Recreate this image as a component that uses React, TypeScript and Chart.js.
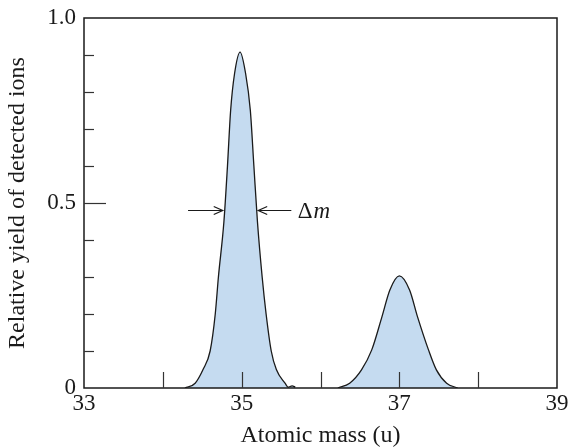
import React, { useEffect, useRef } from "react";
import { Chart, registerables } from "chart.js";

Chart.register(...registerables);

// Peak around 35 u
const peak35Mass = [34.28, 34.41, 34.51, 34.6, 34.665, 34.705, 34.775, 34.82, 34.86, 34.91, 34.98, 35.05, 35.11, 35.155, 35.2, 35.26, 35.31, 35.375, 35.44, 35.55, 35.59, 35.64, 35.68];
const peak35Yield = [0, 0.013, 0.05, 0.1, 0.2, 0.3, 0.45, 0.6, 0.75, 0.85, 0.908, 0.85, 0.75, 0.6, 0.45, 0.3, 0.2, 0.1, 0.05, 0.013, 0.002, 0.006, 0.002];

// Peak around 37 u
const peak37Mass = [36.22, 36.37, 36.52, 36.65, 36.78, 36.88, 37.0, 37.13, 37.23, 37.37, 37.47, 37.6, 37.74];
const peak37Yield = [0, 0.013, 0.049, 0.103, 0.193, 0.265, 0.303, 0.265, 0.193, 0.103, 0.049, 0.013, 0];

// Axis ticks
const xMajorLabels = [33, 35, 37, 39];
const xTickValues = [34, 35, 36, 37, 38];
const yLabels = [0, 0.5, 1.0];
const yTickValues = [0.1, 0.2, 0.3, 0.4, 0.5, 0.6, 0.7, 0.8, 0.9];

// Δm annotation
const deltaMLevel = 0.48;
const leftArrow = [34.32, 34.76];
const rightArrow = [35.63, 35.21];
const deltaMTextAt = 35.71;

const FONT = "'Liberation Serif', 'Times New Roman', serif";
const INK = "#1a1a1a";

const decorPlugin = {
  id: "decor",
  afterDatasetsDraw(chart: any) {
    const { ctx, chartArea, scales } = chart;
    const x = scales.x;
    const y = scales.y;
    ctx.save();
    // box
    ctx.strokeStyle = INK;
    ctx.lineWidth = 1.5;
    ctx.strokeRect(chartArea.left, chartArea.top, chartArea.right - chartArea.left, chartArea.bottom - chartArea.top);
    // y ticks (inward)
    ctx.lineWidth = 1.2;
    ctx.strokeStyle = "#333";
    for (const v of yTickValues) {
      const py = Math.round(y.getPixelForValue(v)) + 0.5;
      const len = Math.abs(v - 0.5) < 1e-6 ? 22 : 10;
      ctx.beginPath();
      ctx.moveTo(chartArea.left, py);
      ctx.lineTo(chartArea.left + len, py);
      ctx.stroke();
    }
    // x ticks (inward)
    for (const v of xTickValues) {
      const px = Math.round(x.getPixelForValue(v)) + 0.5;
      ctx.beginPath();
      ctx.moveTo(px, chartArea.bottom);
      ctx.lineTo(px, chartArea.bottom - 16);
      ctx.stroke();
    }
    // arrows
    const ay = Math.round(y.getPixelForValue(deltaMLevel)) + 0.5;
    const drawArrow = (fromV: number, toV: number) => {
      const x0 = x.getPixelForValue(fromV);
      const x1 = x.getPixelForValue(toV);
      const dir = Math.sign(x1 - x0);
      ctx.strokeStyle = INK;
      ctx.lineWidth = 1.2;
      ctx.beginPath();
      ctx.moveTo(x0, ay);
      ctx.lineTo(x1, ay);
      ctx.moveTo(x1 - dir * 9, ay - 4);
      ctx.lineTo(x1, ay);
      ctx.lineTo(x1 - dir * 9, ay + 4);
      ctx.stroke();
    };
    drawArrow(leftArrow[0], leftArrow[1]);
    drawArrow(rightArrow[0], rightArrow[1]);
    // Δm text
    ctx.fillStyle = INK;
    ctx.textBaseline = "middle";
    ctx.textAlign = "left";
    const tx = x.getPixelForValue(deltaMTextAt);
    ctx.font = `23px ${FONT}`;
    ctx.fillText("Δ", tx, ay + 1);
    const w = ctx.measureText("Δ").width;
    ctx.font = `italic 23px ${FONT}`;
    ctx.fillText("m", tx + w + 1, ay + 1);
    ctx.restore();
  },
};

export default function App() {
  const ref = useRef<HTMLCanvasElement>(null);
  useEffect(() => {
    if (!ref.current) return;
    const chart = new Chart(ref.current, {
      type: "scatter",
      data: {
        datasets: [
          {
            data: peak35Mass.map((m, i) => ({ x: m, y: peak35Yield[i] })),
            showLine: true,
            fill: "origin",
            backgroundColor: "#c5dbf0",
            borderColor: INK,
            borderWidth: 1.3,
            pointRadius: 0,
            cubicInterpolationMode: "monotone",
          },
          {
            data: peak37Mass.map((m, i) => ({ x: m, y: peak37Yield[i] })),
            showLine: true,
            fill: "origin",
            backgroundColor: "#c5dbf0",
            borderColor: INK,
            borderWidth: 1.3,
            pointRadius: 0,
            cubicInterpolationMode: "monotone",
          },
        ],
      },
      options: {
        responsive: false,
        animation: false,
        layout: { padding: { left: 0, top: 18, right: 17, bottom: 0 } },
        plugins: { legend: { display: false }, tooltip: { enabled: false } },
        scales: {
          x: {
            type: "linear",
            min: 33,
            max: 39,
            afterFit: (s: any) => {
              s.height = 60;
              s.paddingLeft = 0;
              s.paddingRight = 0;
            },
            afterBuildTicks: (s: any) => { s.ticks = xMajorLabels.map((v) => ({ value: v })); },
            grid: { display: false, drawTicks: false },
            border: { display: false },
            ticks: {
              color: INK,
              font: { family: FONT, size: 23 },
              padding: 2,
              maxRotation: 0,
              callback: (v: any) => String(v),
            },
            title: {
              display: true,
              text: "Atomic mass (u)",
              color: INK,
              font: { family: FONT, size: 24, lineHeight: 1 },
              padding: { top: 0, bottom: 0 },
            },
          },
          y: {
            min: 0,
            max: 1,
            afterFit: (s: any) => {
              s.width = 84;
              s.paddingTop = 0;
              s.paddingBottom = 0;
            },
            afterBuildTicks: (s: any) => { s.ticks = yLabels.map((v) => ({ value: v })); },
            grid: { display: false, drawTicks: false },
            border: { display: false },
            ticks: {
              color: INK,
              font: { family: FONT, size: 23 },
              padding: 8,
              callback: (v: any) => (v === 0 ? "0" : Number(v).toFixed(1)),
            },
            title: {
              display: true,
              text: "Relative yield of detected ions",
              color: INK,
              font: { family: FONT, size: 24, lineHeight: 1 },
              padding: { top: 6, bottom: 0 },
            },
          },
        },
      },
      plugins: [decorPlugin],
    });
    return () => chart.destroy();
  }, []);
  return (
    <div style={{ position: "fixed", left: 0, top: 0, width: 574, height: 448, background: "#fff" }}>
      <canvas ref={ref} width={574} height={448} style={{ display: "block" }} />
    </div>
  );
}
